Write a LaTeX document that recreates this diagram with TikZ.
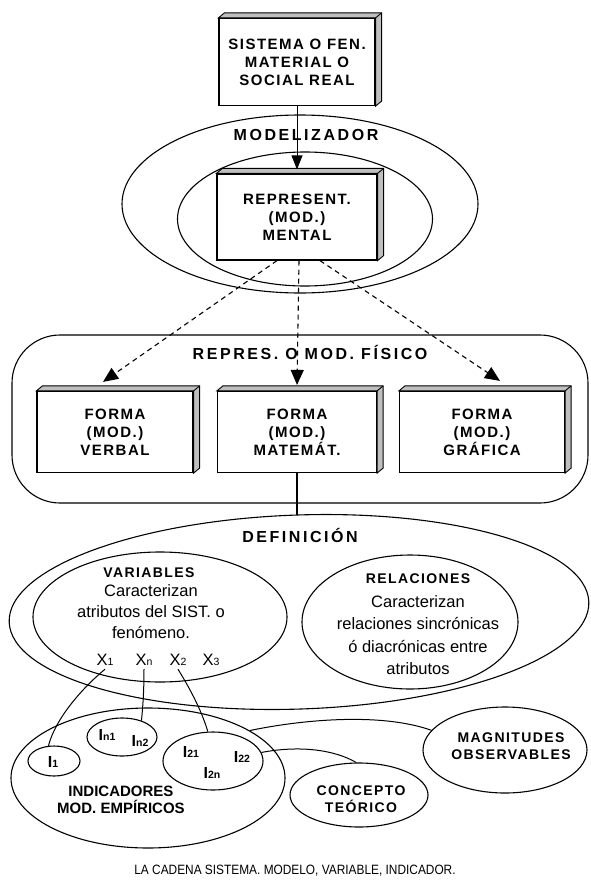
\documentclass[tikz,border=0pt]{standalone}
\usepackage{fontspec}
\setmainfont{Liberation Sans}
\newfontfamily\rotulofont[LetterSpace=16]{Liberation Sans}
\newfontfamily\cajafont[LetterSpace=10]{Liberation Sans}
\newfontfamily\piefont[FakeStretch=0.88]{Liberation Sans}
\usetikzlibrary{shapes.geometric,arrows.meta}

% caras de arriba y de la derecha de una caja
\newcommand{\lados}[1]{%
  \filldraw[fill=gray!50, line width=0.9pt] (#1.north west) -- ++(6,-5)
    -- ([shift={(6,-5)}]#1.north east) -- ([shift={(6,-5)}]#1.south east)
    -- (#1.south east) -- (#1.north east) -- cycle;
  \draw[line width=0.9pt] (#1.north east) -- ++(6,-5);}
\newcommand{\indice}[1]{{\fontsize{10.5}{10.5}\selectfont #1}}

\begin{document}
\begin{tikzpicture}[x=1pt,y=-1pt,
  caja/.style={draw, line width=1.2pt, fill=white, inner sep=0pt, align=center,
    font=\cajafont\bfseries\fontsize{15}{18}\selectfont},
  elipse/.style={draw, ellipse, line width=1.1pt, inner sep=0pt},
  rotulo/.style={align=center, font=\rotulofont\bfseries\fontsize{16}{18}\selectfont},
  titulo/.style={align=center, font=\cajafont\bfseries\fontsize{14}{17.5}\selectfont},
  texto/.style={align=center, font=\fontsize{16.5}{21}\selectfont},
  etiqx/.style={font=\fontsize{16.5}{16.5}\selectfont},
  etiqi/.style={font=\bfseries\fontsize{16}{16}\selectfont},
  linea/.style={line width=1pt},
  flecha/.style={line width=1.1pt, dash pattern=on 5pt off 4pt, -{Triangle[width=13pt,length=15pt]}}]

\useasboundingbox (0,0) rectangle (590,881);

% modelizador
\node[elipse, minimum width=356, minimum height=178] (modext) at (300,204) {};
\node[elipse, minimum width=255, minimum height=134] (modint) at (305,219) {};
\node[rotulo] (modelizador) at (306,135) {MODELIZADOR};

\node[caja, minimum width=156, minimum height=87] (sistema) at (297,62) {SISTEMA O FEN.\\MATERIAL O\\SOCIAL REAL};
\lados{sistema}
\node[caja, minimum width=160, minimum height=86] (mental) at (297,217) {REPRESENT.\\(MOD.)\\MENTAL};
\lados{mental}
\draw[linea, -{Triangle[width=11pt,length=14pt]}] (sistema.south) -- ([shift={(0,-4)}]mental.north);

% repres. o mod. fisico
\node[draw, line width=1.1pt, rounded corners=48, minimum width=576, minimum height=168] (fisico) at (300,419) {};
\node[rotulo] (fisicotxt) at (310,352) {REPRES. O~MOD. FÍSICO};

\node[caja, minimum width=156, minimum height=81] (verbal) at (115,432) {FORMA\\(MOD.)\\VERBAL};
\node[caja, minimum width=159, minimum height=81] (matemat) at (297,432) {FORMA\\(MOD.)\\MATEMÁT.};
\node[caja, minimum width=165, minimum height=81] (grafica) at (482,432) {FORMA\\(MOD.)\\GRÁFICA};
\lados{verbal}
\lados{matemat}
\lados{grafica}

\draw[flecha] ([shift={(-20,0)}]mental.south) -- ([shift={(-12,-9)}]verbal.north);
\draw[flecha] ([shift={(2,0)}]mental.south) -- ([shift={(0,-6)}]matemat.north);
\draw[flecha] ([shift={(23,0)}]mental.south) -- ([shift={(18,-10)}]grafica.north);

% definicion
\node[elipse, minimum width=580, minimum height=194, rotate=2] (defin) at (299,612) {};
\draw[linea, line width=1.1pt] (matemat.south) -- (matemat.south |- defin.north);
\node[rotulo] (definicion) at (300,535) {DEFINICIÓN};

\node[elipse, minimum width=254, minimum height=130] (variables) at (160,617) {};
\node[titulo] (vartit) at (149,573) {VARIABLES};
\node[texto] (vartxt) at (151,612) {Caracterizan\\atributos del SIST. o\\fenómeno.};
\node[etiqx] (x1) at (105,660) {X\indice{1}};
\node[etiqx] (xn) at (144,660) {X\indice{n}};
\node[etiqx] (x2) at (178,660) {X\indice{2}};
\node[etiqx] (x3) at (211,660) {X\indice{3}};

\node[elipse, minimum width=216, minimum height=134] (relaciones) at (410,622) {};
\node[titulo] (reltit) at (418,579) {RELACIONES};
\node[texto, font=\fontsize{16.5}{22.5}\selectfont] (reltxt) at (418,635) {Caracterizan\\relaciones sincrónicas\\ó diacrónicas entre\\atributos};

% indicadores
\node[elipse, minimum width=274, minimum height=140] (indicadores) at (148,778) {};
\node[elipse, minimum width=52, minimum height=30] (i1) at (54,761) {};
\node[elipse, minimum width=70, minimum height=38] (in) at (122,737) {};
\node[elipse, minimum width=100, minimum height=58] (i2) at (213,761) {};
\node[etiqi] (li1) at (53,762) {I\indice{1}};
\node[etiqi] (lin1) at (107,735) {I\indice{n1}};
\node[etiqi] (lin2) at (140,741) {I\indice{n2}};
\node[etiqi] (li21) at (191,752) {I\indice{21}};
\node[etiqi] (li22) at (242,757) {I\indice{22}};
\node[etiqi] (li2n) at (212,773) {I\indice{2n}};
\node[align=center, font=\bfseries\fontsize{15}{17}\selectfont] (indtxt) at (121,800) {INDICADORES\\MOD. EMPÍRICOS};

\node[elipse, minimum width=164, minimum height=86] (magnitudes) at (505,750) {};
\node[titulo] (magtxt) at (511,746) {MAGNITUDES\\OBSERVABLES};
\node[elipse, minimum width=138, minimum height=64] (concepto) at (359,795) {};
\node[titulo] (contxt) at (361,799) {CONCEPTO\\TEÓRICO};

% conexiones
\draw[linea] (x1.south) .. controls (80,690) and (55,720) .. (i1.110);
\draw[linea] (xn.south) .. controls (144,690) and (143,705) .. (in.40);
\draw[linea] (x2.south) .. controls (192,692) and (202,712) .. (i2.100);
\draw[linea] (indicadores.25) .. controls (300,720) and (380,712) .. (magnitudes.165);
\draw[linea] (i2.10) .. controls (300,745) and (335,750) .. (concepto.95);

\node[font=\piefont\fontsize{13.5}{15}\selectfont] (pie) at (295,871) {LA CADENA SISTEMA. MODELO, VARIABLE, INDICADOR.};
\end{tikzpicture}
\end{document}
